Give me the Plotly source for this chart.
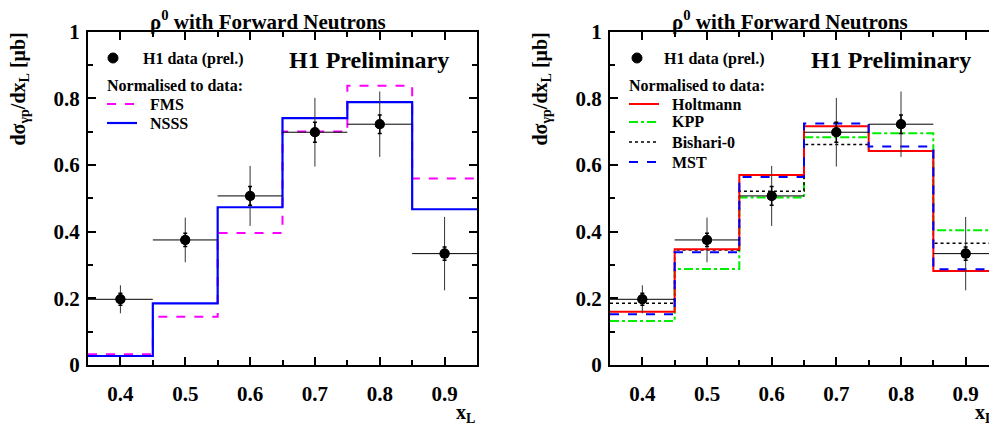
import plotly.graph_objects as go

# ---------------- data ----------------
bin_edges = [0.35, 0.45, 0.55, 0.65, 0.75, 0.85, 0.95]
x_centers = [0.4, 0.5, 0.6, 0.7, 0.8, 0.9]
x_halfwidth = [0.05, 0.05, 0.05, 0.05, 0.05, 0.05]
h1_data = [0.197, 0.375, 0.507, 0.698, 0.722, 0.334]
h1_stat = [0.018, 0.02, 0.028, 0.03, 0.028, 0.02]
h1_total = [0.042, 0.067, 0.09, 0.103, 0.098, 0.11]

fms = [0.032, 0.145, 0.396, 0.700, 0.837, 0.559]
nsss = [0.027, 0.185, 0.473, 0.740, 0.788, 0.467]

holtmann = [0.160, 0.347, 0.570, 0.716, 0.642, 0.282]
kpp = [0.132, 0.288, 0.502, 0.683, 0.695, 0.404]
bishari0 = [0.185, 0.345, 0.521, 0.661, 0.641, 0.365]
mst = [0.152, 0.338, 0.564, 0.724, 0.655, 0.287]

y_tickvals = [0, 0.2, 0.4, 0.6, 0.8, 1.0]
y_ticktext = ["0", "0.2", "0.4", "0.6", "0.8", "1"]
x_tickvals = [0.4, 0.5, 0.6, 0.7, 0.8, 0.9]
x_ticktext = ["0.4", "0.5", "0.6", "0.7", "0.8", "0.9"]

FONT = "Liberation Serif, Times New Roman, Times, serif"
W, H = 997, 428
OFF = 8  # page body margin offset


def px(x):
    return (x - OFF) / W


def py(y):
    return 1 - (y - OFF) / H


fig = go.Figure()


def add_hist(vals, color, dash, width, xa, ya):
    fig.add_trace(go.Scatter(
        x=bin_edges, y=vals + [vals[-1]], mode="lines",
        line=dict(shape="hv", color=color, dash=dash, width=width),
        xaxis=xa, yaxis=ya, showlegend=False, hoverinfo="skip"))


def add_data(xa, ya):
    # total errors (no caps) + horizontal bin width
    fig.add_trace(go.Scatter(
        x=x_centers, y=h1_data, mode="markers",
        marker=dict(color="black", size=10),
        error_y=dict(type="data", array=h1_total, color="#333333", thickness=1, width=0),
        error_x=dict(type="data", array=x_halfwidth, color="black", thickness=1, width=0),
        xaxis=xa, yaxis=ya, showlegend=False, hoverinfo="skip"))
    # statistical errors with small caps
    fig.add_trace(go.Scatter(
        x=x_centers, y=h1_data, mode="markers",
        marker=dict(color="black", size=10),
        error_y=dict(type="data", array=h1_stat, color="black", thickness=1.5, width=2),
        xaxis=xa, yaxis=ya, showlegend=False, hoverinfo="skip"))


# left panel
add_hist(fms, "#ff00ff", "dash", 2, "x", "y")
add_hist(nsss, "#0000ff", "solid", 2.2, "x", "y")
add_data("x", "y")

# right panel
add_hist(kpp, "#00ee00", "dashdot", 2, "x2", "y2")
add_hist(bishari0, "#000000", "dot", 1.5, "x2", "y2")
add_hist(holtmann, "#ff0000", "solid", 2, "x2", "y2")
add_hist(mst, "#0000ff", "dash", 2, "x2", "y2")
add_data("x2", "y2")

ydom = [py(365), py(31.5)]
axis_common = dict(
    ticks="inside", showline=True, linecolor="black", linewidth=2, mirror="ticks",
    tickcolor="black", tickwidth=1.5, ticklen=8, showgrid=False, zeroline=False,
    automargin=False,
    tickfont=dict(family=FONT, size=21, color="black", weight="bold"),
)
xaxis_common = dict(axis_common, tickvals=x_tickvals, ticktext=x_ticktext, ticklabelstandoff=9,
                    minor=dict(ticks="inside", ticklen=5, tickcolor="black", tickwidth=1.5,
                               tickvals=[0.35, 0.45, 0.55, 0.65, 0.75, 0.85], showgrid=False))
yaxis_common = dict(axis_common, tickvals=y_tickvals, ticktext=y_ticktext, range=[0, 1],
                    ticklabelstandoff=2,
                    minor=dict(ticks="inside", ticklen=5, tickcolor="black", tickwidth=1.5,
                               tickvals=[0.1, 0.3, 0.5, 0.7, 0.9], showgrid=False))

fig.update_layout(
    width=W, height=H, margin=dict(l=0, r=0, t=0, b=0, pad=0, autoexpand=False),
    paper_bgcolor="white", plot_bgcolor="white", showlegend=False,
    xaxis=dict(xaxis_common, domain=[px(88), px(477)], range=[0.35, 0.95], anchor="y"),
    yaxis=dict(yaxis_common, domain=ydom, anchor="x"),
    xaxis2=dict(xaxis_common, domain=[px(610), px(998)], range=[0.35, 0.95], anchor="y2"),
    yaxis2=dict(yaxis_common, domain=ydom, anchor="x2"),
)

ann = []
shapes = []


def text(x, y, s, size, xanchor="left", yanchor="middle", angle=0, pad=1):
    ann.append(dict(x=px(x), y=py(y), xref="paper", yref="paper", text=s, showarrow=False,
                    xanchor=xanchor, yanchor=yanchor, textangle=angle, borderpad=pad,
                    font=dict(family=FONT, size=size, color="black", weight="bold")))


def legline(x0, x1, y, color, dash, width):
    shapes.append(dict(type="line", xref="paper", yref="paper", x0=px(x0), x1=px(x1),
                       y0=py(y), y1=py(y), line=dict(color=color, dash=dash, width=width)))


def legdot(x, y):
    shapes.append(dict(type="circle", xref="paper", yref="paper", xsizemode="pixel", ysizemode="pixel",
                       xanchor=px(x), yanchor=py(y), x0=-5, x1=5, y0=-5, y1=5,
                       fillcolor="black", line=dict(color="black", width=1)))


for off, center in [(0, 268), (522, 790)]:
    text(center, 20, "ρ<sup>0</sup> with Forward Neutrons", 21, xanchor="center", pad=0)
    text(19 + off, 31, "dσ<sub>γp</sub>/dx<sub>L</sub> [μb]", 20, xanchor="center", yanchor="top", angle=-90)

text(477, 413, "x<sub>L</sub>", 20, xanchor="right")
text(996, 413, "x<sub>L</sub>", 20, xanchor="right")

# left legend
legdot(113, 58)
text(142, 59, "H1 data (prel.)", 16, pad=0)
text(106, 85, "Normalised to data:", 16, pad=0)
legline(107, 137, 104, "#ff00ff", "dash", 2)
text(149, 104, "FMS", 16, pad=0)
legline(107, 137, 123, "#0000ff", "solid", 2.2)
text(149, 123, "NSSS", 16, pad=0)
text(451, 60, "H1 Preliminary", 24, xanchor="right")

# right legend
legdot(637, 58)
text(663, 59, "H1 data (prel.)", 16, pad=0)
text(628, 85, "Normalised to data:", 16, pad=0)
legline(629, 659, 104, "#ff0000", "solid", 2)
text(671, 104, "Holtmann", 16, pad=0)
legline(629, 659, 122, "#00ee00", "dashdot", 2)
text(671, 122, "KPP", 16, pad=0)
legline(629, 659, 142, "#000000", "dot", 1.5)
text(671, 142, "Bishari-0", 16, pad=0)
legline(629, 659, 162, "#0000ff", "dash", 2)
text(671, 162, "MST", 16, pad=0)
text(973, 60, "H1 Preliminary", 24, xanchor="right")

fig.update_layout(annotations=ann, shapes=shapes)
fig.write_html("out.html")
